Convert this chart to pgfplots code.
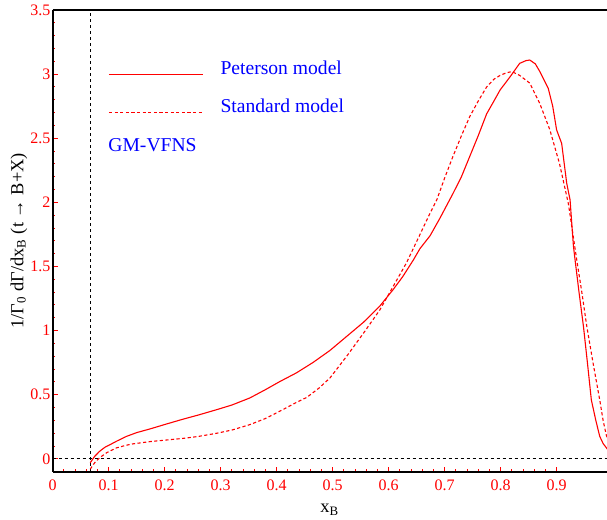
\documentclass[border=0pt]{standalone}
\usepackage{pgfplots}
\pgfplotsset{compat=1.18}
\usepackage{fontspec}
\setmainfont{Liberation Serif}
\begin{document}
\begin{tikzpicture}
\begin{axis}[
  scale only axis,
  width=277.15pt, height=230.85pt,
  xmin=0, xmax=0.99, ymin=-0.1, ymax=3.5,
  axis x line=box, axis y line=left,
  axis line style={black, line width=1pt, -},
  xtick={0,0.1,...,0.9}, ytick={0,0.5,...,3.5},
  minor x tick num=4, minor y tick num=4,
  xtick pos=left, ytick pos=left,
  tick align=inside,
  major tick length=2.5pt, minor tick length=1.3pt,
  tick style={red, line width=0.5pt},
  every tick label/.append style={red, font=\fontsize{8}{9}\selectfont},
  /pgf/number format/assume math mode=true,
  xticklabel style={yshift=-0.5pt},
  yticklabel style={inner sep=1pt},
  clip=true,
  xlabel={x\textsubscript{B}},
  ylabel={1/Γ\textsubscript{0} dΓ/dx\textsubscript{B} (t → B+X)},
  label style={font=\fontsize{9.2}{11}\selectfont, black},
  xlabel style={yshift=0pt},
  ylabel style={yshift=-3pt},
]
\coordinate (ll) at (rel axis cs:0,0);
\coordinate (ur) at (rel axis cs:1,1);
% reference dashed lines
\addplot[black, line width=0.5pt, dash pattern=on 1.5pt off 1.5pt] coordinates {(0.067,-0.1) (0.067,3.5)};
\addplot[black, line width=0.5pt, dash pattern=on 1.5pt off 1.5pt] coordinates {(0,0) (0.99,0)};
% Peterson model
\addplot[red, line width=0.55pt] coordinates {
(0.067,-0.03) (0.075,0.02) (0.084,0.06) (0.093,0.09) (0.102,0.11) (0.115,0.14)
(0.132,0.176) (0.150,0.205) (0.174,0.234) (0.200,0.268) (0.233,0.31) (0.260,0.342)
(0.293,0.384) (0.320,0.42) (0.352,0.475) (0.380,0.54) (0.406,0.604) (0.435,0.67)
(0.465,0.752) (0.495,0.845) (0.525,0.955) (0.555,1.065) (0.584,1.19) (0.608,1.32)
(0.625,1.42) (0.644,1.55) (0.656,1.64) (0.674,1.74) (0.692,1.88) (0.715,2.07)
(0.730,2.2) (0.745,2.36) (0.760,2.52) (0.775,2.69) (0.788,2.79) (0.799,2.876)
(0.817,2.98) (0.834,3.084) (0.845,3.105) (0.852,3.11) (0.862,3.08) (0.870,3.02)
(0.885,2.89) (0.893,2.75) (0.900,2.565) (0.909,2.46) (0.918,2.15) (0.924,2.02)
(0.930,1.66) (0.933,1.55) (0.940,1.3) (0.948,1.03) (0.955,0.75) (0.962,0.46)
(0.970,0.3) (0.977,0.176) (0.983,0.12) (0.989,0.086) (0.995,0.05)
};
% Standard model
\addplot[red, line width=0.55pt, dash pattern=on 1.6pt off 1.2pt] coordinates {
(0.067,-0.08) (0.075,-0.03) (0.084,0.01) (0.097,0.05) (0.114,0.086) (0.130,0.105)
(0.143,0.117) (0.174,0.135) (0.200,0.146) (0.233,0.16) (0.260,0.175) (0.293,0.2)
(0.320,0.225) (0.352,0.267) (0.380,0.315) (0.411,0.384) (0.435,0.44) (0.454,0.48)
(0.475,0.55) (0.495,0.63) (0.525,0.80) (0.555,0.98) (0.584,1.16) (0.608,1.344)
(0.632,1.53) (0.656,1.75) (0.670,1.88) (0.686,2.02) (0.700,2.19) (0.715,2.36)
(0.730,2.52) (0.745,2.67) (0.760,2.79) (0.775,2.90) (0.788,2.96) (0.799,2.99)
(0.810,3.01) (0.82,3.02) (0.834,2.99) (0.852,2.93) (0.870,2.77) (0.888,2.565)
(0.905,2.305) (0.921,1.99) (0.936,1.55) (0.945,1.3) (0.954,1.03) (0.965,0.75)
(0.977,0.46) (0.983,0.3) (0.989,0.18) (0.995,0.12)
};
% legend
\draw[red, line width=0.55pt] (axis cs:0.1005,3.0) -- (axis cs:0.268,3.0);
\draw[red, line width=0.55pt, dash pattern=on 1.6pt off 1.2pt] (axis cs:0.1005,2.70) -- (axis cs:0.268,2.70);
\node[anchor=base west, inner sep=0, text=blue, font=\fontsize{9.8}{11}\selectfont] at (axis cs:0.299,2.997) {Peterson model};
\node[anchor=base west, inner sep=0, text=blue, font=\fontsize{9.8}{11}\selectfont] at (axis cs:0.299,2.697) {Standard model};
\node[anchor=base west, inner sep=0, text=blue, font=\fontsize{9.8}{11}\selectfont] at (axis cs:0.0988,2.396) {GM-VFNS};
\end{axis}
\path (ll) ++(-26.35pt,-23.65pt) coordinate (a);
\path (ur) ++(0,5pt) coordinate (b);
\pgfresetboundingbox
\path (a) rectangle (b);
\end{tikzpicture}
\end{document}
